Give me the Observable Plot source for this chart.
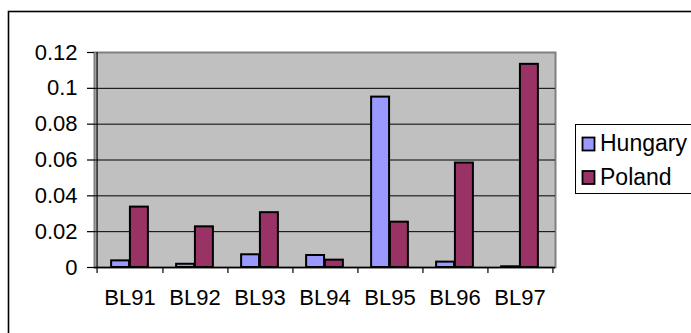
<!DOCTYPE html>
<html>
<head>
<meta charset="utf-8">
<script src="https://cdn.jsdelivr.net/npm/d3@7"></script>
<script src="https://cdn.jsdelivr.net/npm/@observablehq/plot@0.6"></script>
<style>
  body { margin: 0; background: #fff; }
  #chart svg { display: block; }
</style>
</head>
<body>
<div id="chart"></div>
<script>
// Yearly values per series
const categories = ["BL91", "BL92", "BL93", "BL94", "BL95", "BL96", "BL97"];
const seriesNames = ["Hungary", "Poland"];
const hungary = [0.0037, 0.0018, 0.0071, 0.0067, 0.0951, 0.0030, 0.0004];
const poland  = [0.0337, 0.0227, 0.0306, 0.0041, 0.0253, 0.0583, 0.1134];
const yTicks = [0, 0.02, 0.04, 0.06, 0.08, 0.1, 0.12];
const yTickLabels = ["0", "0.02", "0.04", "0.06", "0.08", "0.1", "0.12"];
const seriesColors = ["#9999ff", "#993366"];

const rows = categories.flatMap((c, i) => [
  {category: c, series: seriesNames[0], value: hungary[i]},
  {category: c, series: seriesNames[1], value: poland[i]}
]);

const W = 691, H = 333;
const mL = 94, mR = 136, mT = 52, mB = 66;
const bw = (W - mL - mR) / categories.length;   // band width per category
const barW = bw / 3.5;                          // two bars plus a 150% gap
const frameH = H - mT - mB;
const font = "'Liberation Sans', Arial, sans-serif";
const fs = 22;
const legendFs = 23;

const plot = Plot.plot({
  width: W,
  height: H,
  marginLeft: mL,
  marginRight: mR,
  marginTop: mT,
  marginBottom: mB,
  style: {fontFamily: font, fontSize: fs + "px", color: "#000", background: "transparent"},
  x: {type: "band", domain: categories, padding: 0, axis: null},
  y: {domain: [0, 0.12], axis: null},
  color: {domain: seriesNames, range: seriesColors},
  marks: [
    Plot.frame({fill: "#c0c0c0", stroke: "#808080", strokeWidth: 2}),
    Plot.gridY(yTicks.filter(t => t > 0 && t < 0.12), {stroke: "#000", strokeOpacity: 1, strokeWidth: 1}),
    Plot.barY(rows, {
      filter: d => d.series === seriesNames[0],
      x: "category", y: "value", fill: "series",
      insetLeft: bw / 2 - barW, insetRight: bw / 2,
      stroke: "#000", strokeWidth: 2
    }),
    Plot.barY(rows, {
      filter: d => d.series === seriesNames[1],
      x: "category", y: "value", fill: "series",
      insetLeft: bw / 2, insetRight: bw / 2 - barW,
      stroke: "#000", strokeWidth: 2
    }),
    Plot.ruleY([0], {stroke: "#000", strokeWidth: 1.5}),
    // value axis line, extended down into the first category tick
    Plot.ruleX([categories[0]], {dx: -bw / 2, insetBottom: -6, stroke: "#000", strokeWidth: 1.2}),
    // category separator ticks below the axis
    Plot.ruleX(categories, {dx: bw / 2, insetTop: frameH, insetBottom: -6, stroke: "#000", strokeWidth: 1.2}),
    Plot.axisY(yTicks, {
      tickSize: 7, tickPadding: 10, strokeWidth: 1.2,
      tickFormat: d => yTickLabels[yTicks.indexOf(d)],
      fontSize: fs, label: null
    }),
    Plot.axisX({tickSize: 0, tickPadding: 22, fontSize: fs, label: null})
  ]
});

const svg = d3.select(plot);
const color = plot.scale("color");

// chart border
svg.append("rect")
  .attr("x", 8.5).attr("y", 11.5)
  .attr("width", 800).attr("height", 400)
  .attr("fill", "none").attr("stroke", "#000").attr("stroke-width", 1.6);

// legend
const legend = svg.append("g").attr("text-anchor", "start");
legend.append("rect")
  .attr("x", 575.5).attr("y", 124.5)
  .attr("width", 200).attr("height", 69)
  .attr("fill", "#fff").attr("stroke", "#000").attr("stroke-width", 1);
seriesNames.forEach((name, i) => {
  legend.append("rect")
    .attr("x", 582.5).attr("y", 137.5 + i * 33.5)
    .attr("width", 12).attr("height", 13)
    .attr("fill", color.apply(name))
    .attr("stroke", "#000").attr("stroke-width", 1.8);
  legend.append("text")
    .attr("x", 600).attr("y", 151 + i * 33.5)
    .attr("text-anchor", "start")
    .attr("font-family", font).attr("font-size", legendFs)
    .attr("fill", "#000")
    .text(name);
});

document.getElementById("chart").appendChild(plot);
</script>
</body>
</html>
